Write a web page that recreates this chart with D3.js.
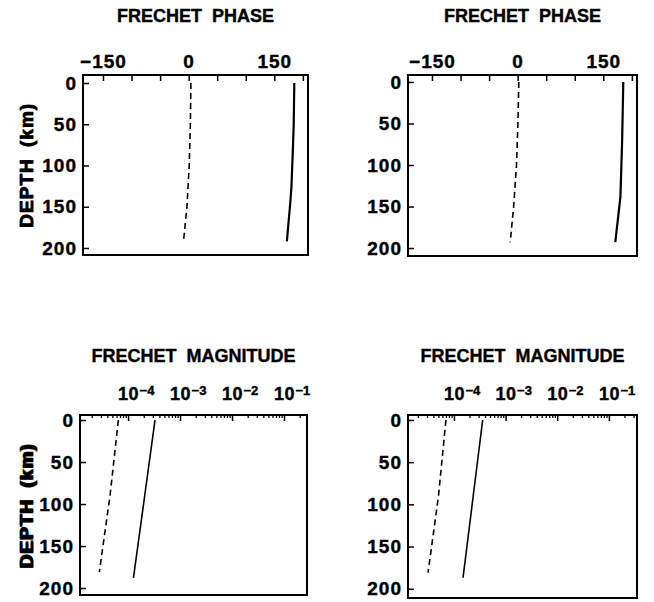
<!DOCTYPE html>
<html>
<head>
<meta charset="utf-8">
<script src="https://cdn.jsdelivr.net/npm/d3@7"></script>
<style>
  body { margin: 0; background: #fff; }
  svg text { font-family: "Liberation Sans", Arial, sans-serif; font-weight: bold; fill: #000; stroke: #000; stroke-width: 0.4px; }
</style>
</head>
<body>
<svg id="chart" width="654" height="602"></svg>
<script>
// axis ticks
const depthTicks = [0, 50, 100, 150, 200];
const phaseTicks = [-150, -100, -50, 0, 50, 100, 150, 200];
const phaseLabels = [-150, 0, 150];
const magDecades = [1e-4, 1e-3, 1e-2, 1e-1];
const magExponents = ['\u22124', '\u22123', '\u22122', '\u22121'];

// left column: phase (deg) vs depth (km)
const phaseSolidDepthL = [0, 50, 90, 126, 145, 192];
const phaseSolidL = [185, 184, 182, 180, 178, 172];
const phaseDashDepthL = [0, 50, 100, 150, 192];
const phaseDashL = [4, 3, 1, -3, -9];
// left column: magnitude vs depth
const magSolidDepthL = [0, 94, 188];
const magSolidL = [3.3e-4, 2.05e-4, 1.27e-4];
const magDashDepthL = [0, 90, 181];
const magDashL = [6.5e-5, 4.5e-5, 2.8e-5];

// right column
const phaseSolidDepthR = [0, 70, 138, 193];
const phaseSolidR = [185, 183, 180, 171];
const phaseDashDepthR = [0, 50, 100, 150, 193];
const phaseDashR = [2, 0.5, -2, -7, -13];
const magSolidDepthR = [0, 91, 187];
const magSolidR = [3.6e-4, 2.35e-4, 1.5e-4];
const magDashDepthR = [0, 91, 181];
const magDashR = [7e-5, 5e-5, 3.15e-5];

const svg = d3.select('#chart');

const panels = [
  {x: 83, y: 75, w: 225, h: 180, log: false, xDom: [-185, 209], yDom: [-9.7, 208.5], title: 'FRECHET PHASE',
   solid: [phaseSolidDepthL, phaseSolidL], dash: [phaseDashDepthL, phaseDashL]},
  {x: 408, y: 75, w: 229, h: 181, log: false, xDom: [-192, 209], yDom: [-8.4, 209.6], title: 'FRECHET PHASE',
   solid: [phaseSolidDepthR, phaseSolidR], dash: [phaseDashDepthR, phaseDashR]},
  {x: 80, y: 415, w: 227, h: 180, log: true, xDom: [1.19e-5, 0.277], yDom: [-6, 208.3], title: 'FRECHET MAGNITUDE',
   solid: [magSolidDepthL, magSolidL], dash: [magDashDepthL, magDashL]},
  {x: 408, y: 415, w: 229, h: 183, log: true, xDom: [1.29e-5, 0.35], yDom: [-5.9, 211], title: 'FRECHET MAGNITUDE',
   solid: [magSolidDepthR, magSolidR], dash: [magDashDepthR, magDashR]}
];

function drawPanel(p) {
  const g = svg.append('g').attr('transform', `translate(${p.x},${p.y})`);
  const y = d3.scaleLinear().domain(p.yDom).range([0, p.h]);
  const x = (p.log ? d3.scaleLog() : d3.scaleLinear()).domain(p.xDom).range([0, p.w]);

  // depth axis, ticks pointing inwards
  const ya = g.append('g')
    .call(d3.axisLeft(y).tickValues(depthTicks).tickSize(-6).tickPadding(6));
  ya.select('.domain').remove();
  ya.selectAll('.tick line').attr('stroke-width', 1.5);
  ya.selectAll('text').attr('font-size', 19).attr('letter-spacing', 1);

  if (!p.log) {
    const xa = g.append('g')
      .call(d3.axisTop(x).tickValues(phaseTicks).tickSize(-6).tickPadding(7)
        .tickFormat(d => phaseLabels.includes(d) ? (d < 0 ? '\u2212' + Math.abs(d) : d) : ''));
    xa.select('.domain').remove();
    xa.selectAll('.tick line').attr('stroke-width', 1.5);
    xa.selectAll('text').attr('font-size', 19).attr('letter-spacing', 1);
  } else {
    // minor log ticks
    const minor = x.ticks().filter(v => !magDecades.includes(v));
    const xm = g.append('g')
      .call(d3.axisTop(x).tickValues(minor).tickSize(-3).tickFormat(''));
    xm.select('.domain').remove();
    xm.selectAll('.tick line').attr('stroke-width', 1.3);
    // decades with labels
    const xa = g.append('g')
      .call(d3.axisTop(x).tickValues(magDecades).tickSize(-6).tickPadding(15).tickFormat(() => '10'));
    xa.select('.domain').remove();
    xa.selectAll('.tick line').attr('stroke-width', 1.5);
    xa.selectAll('text').attr('font-size', 18).attr('letter-spacing', 0.5);
    xa.selectAll('.tick').append('text')
      .attr('x', 11)
      .attr('y', -20)
      .attr('text-anchor', 'start')
      .attr('font-size', 13)
      .text((d, i) => magExponents[i]);
  }

  // curves
  const line = d3.line().x(d => x(d[1])).y(d => y(d[0]));
  g.append('path')
    .datum(d3.zip(p.solid[0], p.solid[1]))
    .attr('fill', 'none')
    .attr('stroke', '#000')
    .attr('stroke-width', p.log ? 1.6 : 2.2)
    .attr('d', line);
  g.append('path')
    .datum(d3.zip(p.dash[0], p.dash[1]))
    .attr('fill', 'none')
    .attr('stroke', '#000')
    .attr('stroke-width', 1.6)
    .attr('stroke-dasharray', '6,4')
    .attr('d', line);

  // frame
  g.append('rect')
    .attr('width', p.w)
    .attr('height', p.h)
    .attr('fill', 'none')
    .attr('stroke', '#000')
    .attr('stroke-width', 2);

  // title
  svg.append('text')
    .attr('x', p.x + p.w / 2)
    .attr('y', p.y - 53)
    .attr('text-anchor', 'middle')
    .attr('font-size', 18)
    .attr('word-spacing', 5)
    .text(p.title);

  // depth label
  svg.append('text')
    .attr('transform', `translate(33,${p.y + p.h / 2}) rotate(-90)`)
    .attr('text-anchor', 'middle')
    .attr('font-size', 19)
    .attr('letter-spacing', 1)
    .attr('word-spacing', 5)
    .text('DEPTH (km)');
}

panels.forEach(drawPanel);
</script>
</body>
</html>
